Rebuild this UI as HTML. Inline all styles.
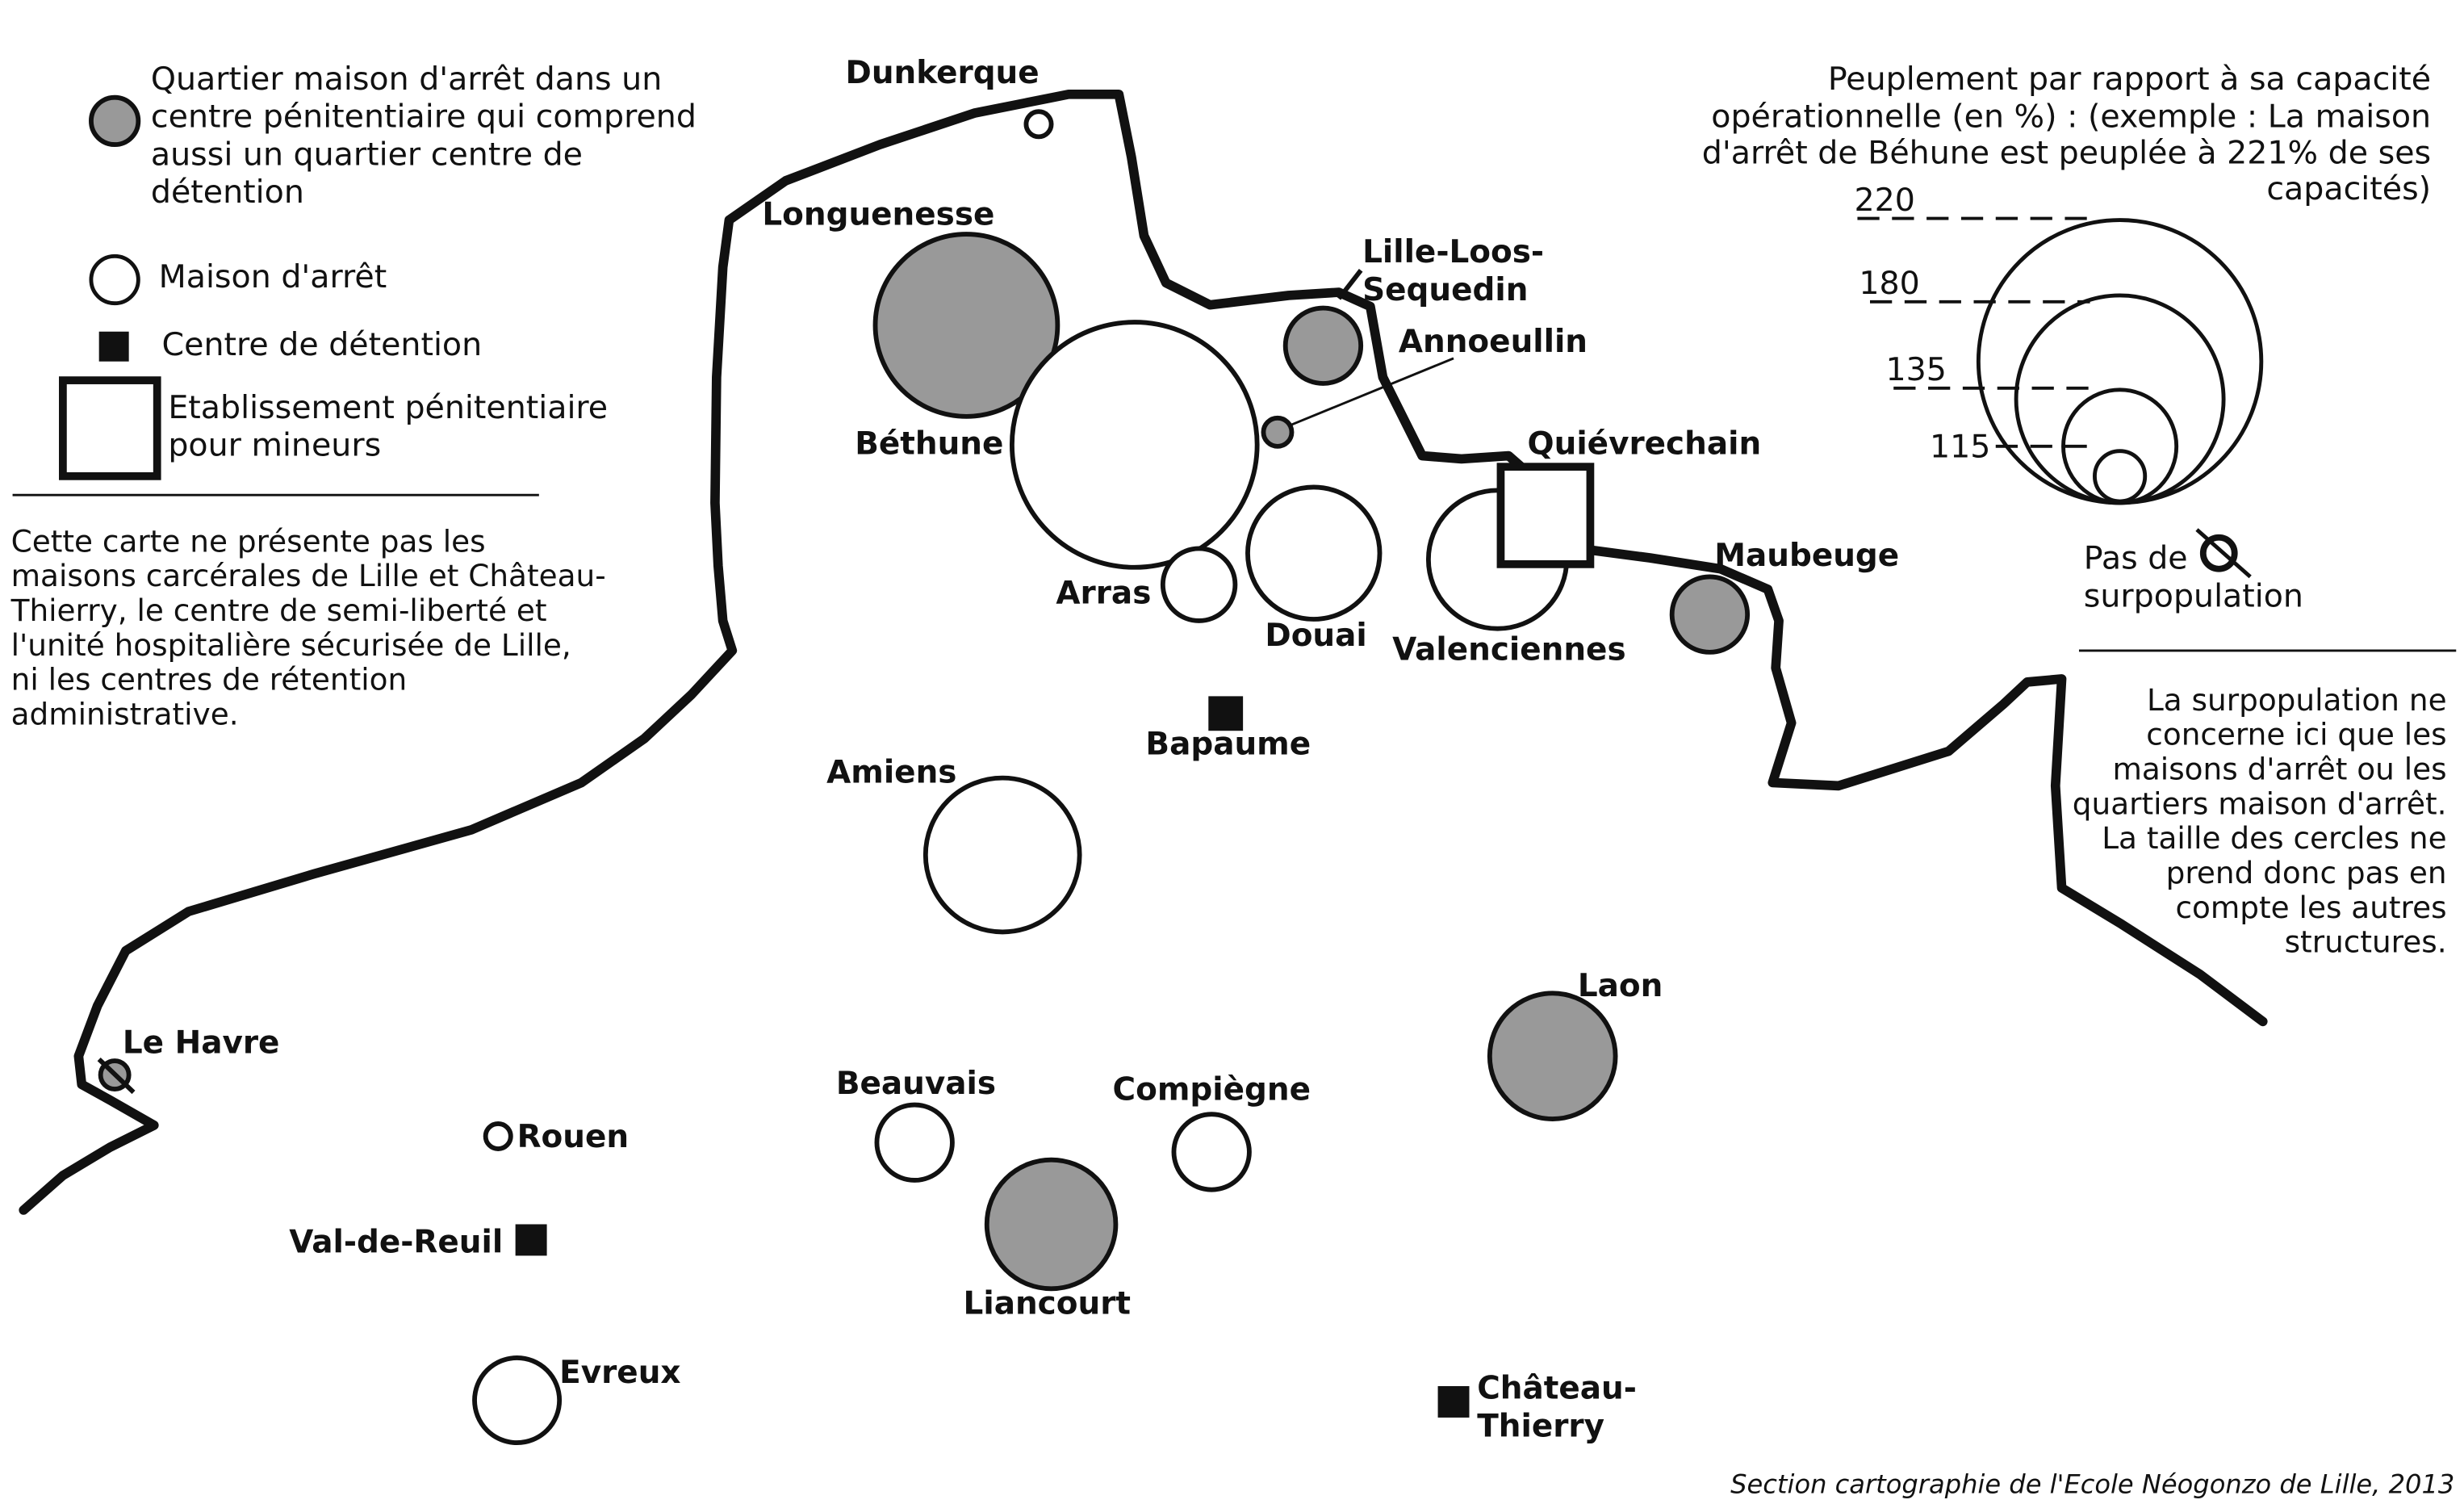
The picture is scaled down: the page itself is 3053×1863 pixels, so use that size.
<!DOCTYPE html>
<html><head><meta charset="utf-8"><style>
html,body{margin:0;padding:0;background:#fff;}
svg{display:block;}
text{font-family:"DejaVu Sans","Liberation Sans",sans-serif;fill:#111;}
.c{font-weight:bold;font-size:20px;}
.l{font-size:20.3px;}
</style></head><body>
<svg width="3053" height="1863" viewBox="0 0 1568 957" preserveAspectRatio="none" xmlns="http://www.w3.org/2000/svg">
<rect width="1568" height="957" fill="#fff"/>
<g fill="none" stroke="#111" stroke-width="6" stroke-linejoin="round" stroke-linecap="round">
<path d="M15,770 L40,748 L70,730 L98,716 L70,700 L52,690 L50,672 L62,640 L80,605 L120,580 L200,556 L300,528 L370,498 L410,470 L440,442 L466,414 L460,395 L457,360 L455,320 L456,240 L460,170 L464,140 L500,115 L560,92 L620,72 L680,60 L712,60 L720,100 L728,150 L742,180 L770,194 L820,188 L852,186 L872,195 L880,240 L895,270 L905,290 L930,292 L960,290 L968,297"/>
<path d="M1012,350 L1050,355 L1095,362 L1125,375 L1132,395 L1130,425 L1140,460 L1128,498 L1170,500 L1240,478 L1275,448 L1290,434 L1312,432 L1308,500 L1312,565 L1350,588 L1400,620 L1440,650"/>
</g>
<g stroke="#111" stroke-width="3">
<circle cx="661" cy="79" r="8" fill="#fff"/>
<circle cx="615" cy="207" r="58" fill="#999"/>
<circle cx="722" cy="283" r="78" fill="#fff"/>
<circle cx="842" cy="220" r="24" fill="#999"/>
<circle cx="813" cy="275" r="9" fill="#999"/>
<circle cx="763" cy="372" r="23" fill="#fff"/>
<circle cx="836" cy="352" r="42" fill="#fff"/>
<circle cx="953" cy="356" r="44" fill="#fff"/>
<rect x="955" y="297" width="57" height="62" fill="#fff" stroke-width="5"/>
<circle cx="1088" cy="391" r="24" fill="#999"/>
<circle cx="638" cy="544" r="49" fill="#fff"/>
<circle cx="988" cy="672" r="40" fill="#999"/>
<circle cx="582" cy="727" r="24" fill="#fff"/>
<circle cx="771" cy="733" r="24" fill="#fff"/>
<circle cx="669" cy="779" r="41" fill="#999"/>
<circle cx="73" cy="684" r="9" fill="#999"/>
<circle cx="317" cy="723" r="8" fill="#fff"/>
<circle cx="329" cy="891" r="27" fill="#fff"/>
<line x1="63" y1="674" x2="85" y2="695"/>
<line x1="820" y1="271" x2="925" y2="228" stroke-width="1.5"/>
<line x1="852" y1="190" x2="866" y2="172"/>
</g>
<g fill="#111">
<rect x="769" y="443" width="22" height="22"/>
<rect x="328" y="779" width="20" height="20"/>
<rect x="915" y="882" width="20" height="20"/>
</g>
<g class="c">
<text x="538" y="53">Dunkerque</text>
<text x="485" y="143">Longuenesse</text>
<text x="544" y="289">Béthune</text>
<text x="867" y="167">Lille-Loos-</text>
<text x="867" y="191">Sequedin</text>
<text x="890" y="224">Annoeullin</text>
<text x="972" y="289">Quiévrechain</text>
<text x="1091" y="360">Maubeuge</text>
<text x="672" y="384">Arras</text>
<text x="805" y="411">Douai</text>
<text x="886" y="420">Valenciennes</text>
<text x="729" y="480">Bapaume</text>
<text x="526" y="498">Amiens</text>
<text x="1004" y="634">Laon</text>
<text x="532" y="696">Beauvais</text>
<text x="708" y="700">Compiègne</text>
<text x="613" y="836">Liancourt</text>
<text x="78" y="670">Le Havre</text>
<text x="329" y="730">Rouen</text>
<text x="184" y="797">Val-de-Reuil</text>
<text x="356" y="880">Evreux</text>
<text x="940" y="890">Château-</text>
<text x="940" y="914">Thierry</text>
</g>
<circle cx="73" cy="77" r="15" fill="#999" stroke="#111" stroke-width="3"/>
<circle cx="73" cy="178" r="15" fill="#fff" stroke="#111" stroke-width="2.5"/>
<rect x="63" y="211" width="19" height="19" fill="#111"/>
<rect x="40" y="242" width="60" height="61" fill="#fff" stroke="#111" stroke-width="5"/>
<g class="l">
<text x="96" y="57">Quartier maison d'arrêt dans un</text>
<text x="96" y="81">centre pénitentiaire qui comprend</text>
<text x="96" y="105">aussi un quartier centre de</text>
<text x="96" y="129">détention</text>
<text x="101" y="183">Maison d'arrêt</text>
<text x="103" y="226">Centre de détention</text>
<text x="107" y="266">Etablissement pénitentiaire</text>
<text x="107" y="290">pour mineurs</text>
</g>
<line x1="8" y1="315" x2="343" y2="315" stroke="#111" stroke-width="1.5"/>
<g style="font-size:19.2px">
<text x="7" y="351">Cette carte ne présente pas les</text>
<text x="7" y="373">maisons carcérales de Lille et Château-</text>
<text x="7" y="395">Thierry, le centre de semi-liberté et</text>
<text x="7" y="417">l'unité hospitalière sécurisée de Lille,</text>
<text x="7" y="439">ni les centres de rétention</text>
<text x="7" y="461">administrative.</text>
</g>
<g class="l" text-anchor="end">
<text x="1547" y="57">Peuplement par rapport à sa capacité</text>
<text x="1547" y="81">opérationnelle (en %) : (exemple : La maison</text>
<text x="1547" y="104">d'arrêt de Béhune est peuplée à 221% de ses</text>
<text x="1547" y="127">capacités)</text>
</g>
<g fill="none" stroke="#111" stroke-width="2.5">
<circle cx="1349" cy="230" r="90"/>
<circle cx="1349" cy="254" r="66"/>
<circle cx="1349" cy="284" r="36"/>
<circle cx="1349" cy="303" r="16"/>
</g>
<g stroke="#111" stroke-width="2" stroke-dasharray="14,8">
<line x1="1182" y1="139" x2="1330" y2="139"/>
<line x1="1190" y1="192" x2="1330" y2="192"/>
<line x1="1205" y1="247" x2="1330" y2="247"/>
<line x1="1270" y1="284" x2="1330" y2="284"/>
</g>
<g class="l">
<text x="1180" y="134">220</text>
<text x="1183" y="187">180</text>
<text x="1200" y="242">135</text>
<text x="1228" y="291">115</text>
<text x="1326" y="362">Pas de</text>
<text x="1326" y="386">surpopulation</text>
</g>
<circle cx="1412" cy="352" r="10" fill="none" stroke="#111" stroke-width="4"/>
<line x1="1398" y1="337" x2="1432" y2="367" stroke="#111" stroke-width="2.5"/>
<line x1="1323" y1="414" x2="1563" y2="414" stroke="#111" stroke-width="1.5"/>
<g style="font-size:19.2px" text-anchor="end">
<text x="1557" y="452">La surpopulation ne</text>
<text x="1557" y="474">concerne ici que les</text>
<text x="1557" y="496">maisons d'arrêt ou les</text>
<text x="1557" y="518">quartiers maison d'arrêt.</text>
<text x="1557" y="540">La taille des cercles ne</text>
<text x="1557" y="562">prend donc pas en</text>
<text x="1557" y="584">compte les autres</text>
<text x="1557" y="606">structures.</text>
</g>
<text x="1562" y="950" text-anchor="end" style="font-size:16.5px;font-style:italic">Section cartographie de l'Ecole Néogonzo de Lille, 2013</text>
</svg>
</body></html>
